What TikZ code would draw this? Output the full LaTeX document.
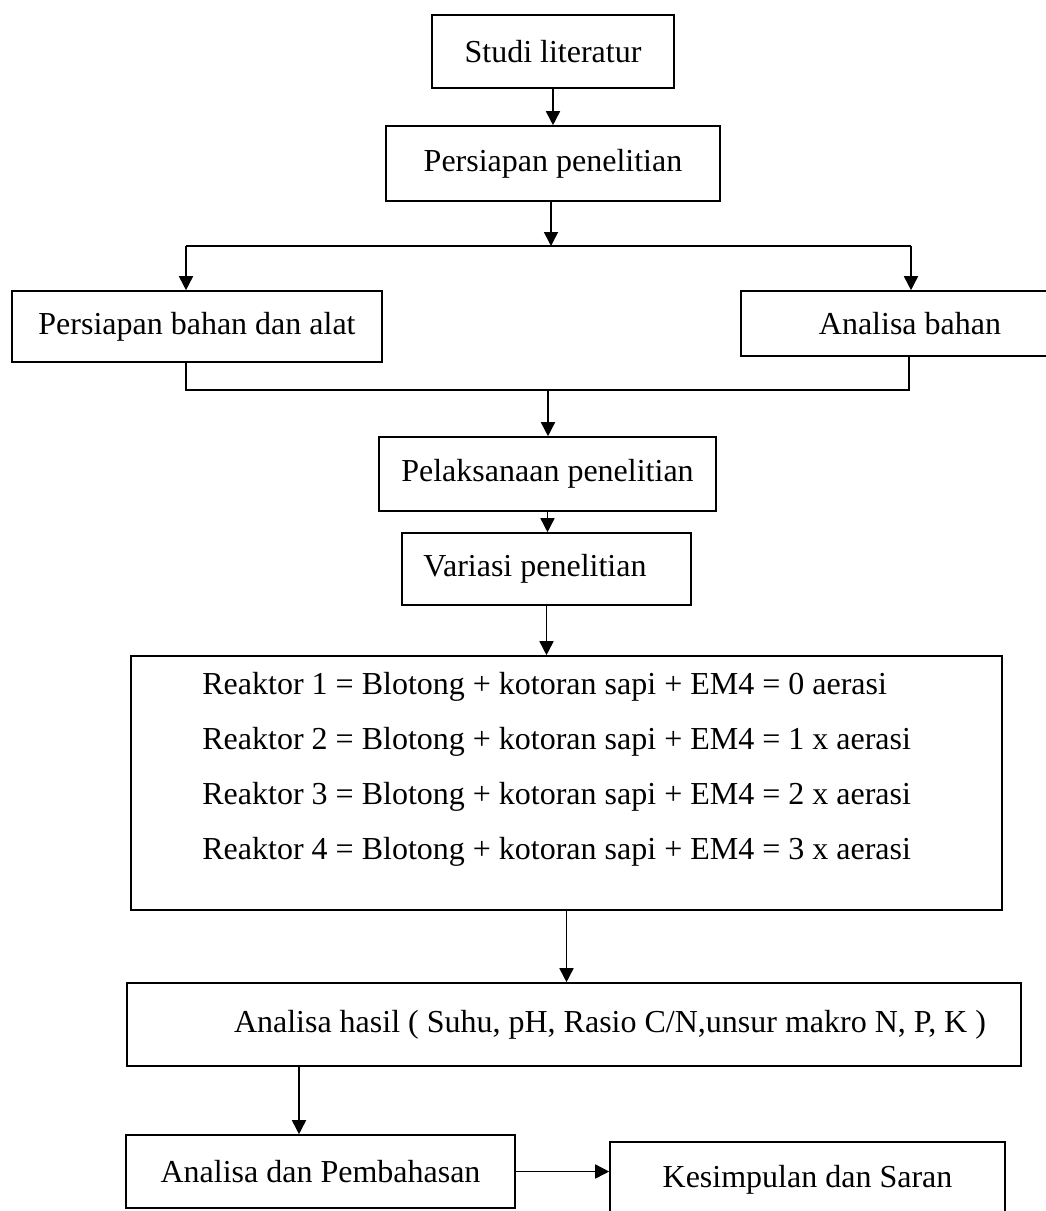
\documentclass[tikz,border=0pt]{standalone}
\usepackage{fontspec}
\setmainfont{Liberation Serif}
\usetikzlibrary{arrows.meta}

\begin{document}
\begin{tikzpicture}[x=0.5pt,y=-0.5pt,>={Triangle[length=7pt,width=7pt]},
    kotak/.style={draw,line width=0.8pt,inner sep=0pt,font=\fontsize{16}{19}\selectfont},
    panah/.style={->,line width=0.8pt},
    garis/.style={line width=0.8pt}]
    \useasboundingbox (0,0) rectangle (1045,1211);

    % Tahap awal
    \node[kotak,minimum width=121pt,minimum height=36.5pt] (studi) at (553,51.5) {Studi literatur};
    \node[kotak,minimum width=167pt,minimum height=37.5pt] (persiapan) at (553,163.5) {Persiapan penelitian};
    \draw[panah] (studi) -- (persiapan);

    % Percabangan
    \node[kotak,minimum width=185pt,minimum height=35.5pt] (bahan) at (197,326.5) {Persiapan bahan dan alat};
    \node[kotak,minimum width=169pt,minimum height=32.5pt] (analisa) at (910,323.5) {Analisa bahan};
    \coordinate (cabang) at (551,246);
    \coordinate (cabangL) at (186,246);
    \coordinate (cabangR) at (911,246);
    \draw[panah] (persiapan.south -| cabang) -- (cabang);
    \draw[garis] (cabangL) -- (cabangR);
    \draw[panah] (cabangL) -- (cabangL |- bahan.north);
    \draw[panah] (cabangR) -- (cabangR |- analisa.north);

    % Penggabungan
    \node[kotak,minimum width=168.5pt,minimum height=37pt] (pelaksanaan) at (547.5,474) {Pelaksanaan penelitian};
    \coordinate (gabungL) at (186,390);
    \coordinate (gabungR) at (909,390);
    \coordinate (gabung) at (548,390);
    \draw[garis] (gabungL |- bahan.south) -- (gabungL) -- (gabungR) -- (gabungR |- analisa.south);
    \draw[panah] (gabung) -- (gabung |- pelaksanaan.north);

    % Variasi dan reaktor
    \node[kotak,minimum width=144.5pt,minimum height=36pt] (variasi) at (546.5,569) {Variasi penelitian\hspace*{11.5pt}};
    \node[kotak,minimum width=435.5pt,minimum height=127pt] (reaktor) at (566.5,783) {};
    \node[anchor=west,align=left,inner sep=0pt,font=\fontsize{16}{27.5}\selectfont] (isi) at (202,769)
        {Reaktor 1 = Blotong + kotoran sapi + EM4 = 0 aerasi\\
         Reaktor 2 = Blotong + kotoran sapi + EM4 = 1 x aerasi\\
         Reaktor 3 = Blotong + kotoran sapi + EM4 = 2 x aerasi\\
         Reaktor 4 = Blotong + kotoran sapi + EM4 = 3 x aerasi};
    \draw[panah] (pelaksanaan.south) -- (pelaksanaan.south |- variasi.north);
    \draw[panah] (variasi.south) -- (variasi.south |- reaktor.north);

    % Analisa dan hasil akhir
    \node[kotak,minimum width=447pt,minimum height=41.5pt] (hasil) at (574,1024.5)
        {\hspace*{36pt}Analisa hasil ( Suhu, pH, Rasio C/N,unsur makro N, P, K )};
    \node[kotak,minimum width=194.5pt,minimum height=36.5pt] (pembahasan) at (320.5,1171.5) {Analisa dan Pembahasan};
    \node[kotak,minimum width=197.5pt,minimum height=38pt] (kesimpulan) at (807.5,1180) {Kesimpulan dan Saran};
    \coordinate (turun) at (299,1100);
    \draw[panah] (reaktor.south) -- (reaktor.south |- hasil.north);
    \draw[panah] (turun |- hasil.south) -- (turun |- pembahasan.north);
    \draw[panah] (pembahasan.east) -- (pembahasan.east -| kesimpulan.west);
\end{tikzpicture}
\end{document}
